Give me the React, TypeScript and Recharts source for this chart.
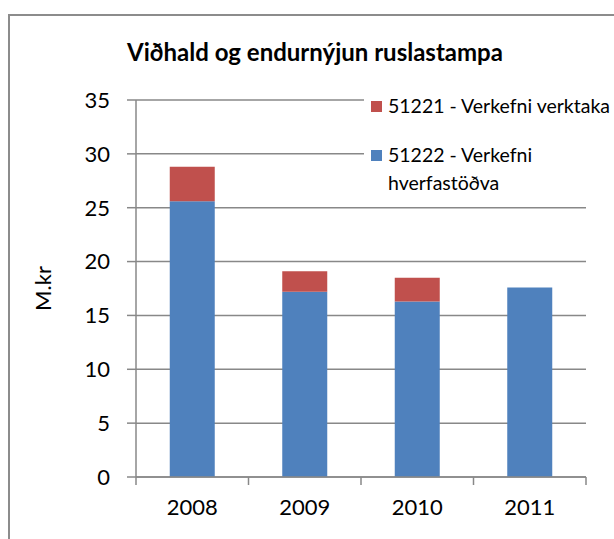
import React from "react";
import { BarChart, Bar, XAxis, YAxis, CartesianGrid, Label } from "recharts";

const years = ["2008", "2009", "2010", "2011"];
const hverfastodva = [25.6, 17.2, 16.3, 17.6]; // 51222
const verktaka = [3.2, 1.9, 2.2, 0]; // 51221
const yTicks = [0, 5, 10, 15, 20, 25, 30, 35];

const data = years.map((year, i) => ({
  year,
  blue: hverfastodva[i],
  red: verktaka[i],
}));

const FONT = "Lato, 'Open Sans', sans-serif";
const GRAY = "#888888";

const XTick = (props: any) => {
  const { x, y, payload, index, visibleTicksCount, width } = props;
  const half =
    payload && typeof payload.offset === "number" && payload.offset > 0
      ? payload.offset
      : width && visibleTicksCount
      ? width / visibleTicksCount / 2
      : 56;
  const axisY = y - 8 - 14;
  return (
    <g>
      <line x1={x - half} x2={x - half} y1={axisY} y2={axisY + 8} stroke={GRAY} strokeWidth={1.5} />
      {index === (visibleTicksCount ?? 4) - 1 && (
        <line x1={x + half} x2={x + half} y1={axisY} y2={axisY + 8} stroke={GRAY} strokeWidth={1.5} />
      )}
      <text x={x} y={y} dy="0.71em" textAnchor="middle" fill="#000" fontSize={22} fontFamily={FONT}>
        {payload.value}
      </text>
    </g>
  );
};

const legendItems = [
  { label: "51221 - Verkefni verktaka", color: "#c0504d" },
  { label: "51222 - Verkefni hverfastöðva", color: "#4f81bd" },
];

const LegendBox = () => (
  <div
    style={{
      position: "absolute",
      left: 354,
      top: 74,
      width: 260,
      height: 108,
      background: "#fff",
      paddingTop: 2,
      paddingLeft: 7,
      boxSizing: "border-box",
      zIndex: 2,
    }}
  >
    {legendItems.map((it, i) => (
      <div key={it.label} style={{ display: "flex", alignItems: "flex-start", marginTop: i === 0 ? 0 : 21 }}>
        <div style={{ width: 11, height: 11, background: it.color, marginTop: 9, marginRight: 6, flexShrink: 0 }} />
        <div style={{ fontSize: 19.5, lineHeight: "28px", width: 228, fontFamily: FONT, color: "#000", textAlign: "left" }}>
          {it.label}
        </div>
      </div>
    ))}
  </div>
);

export default function App() {
  return (
    <div
      style={{
        position: "fixed",
        left: 8,
        top: 14,
        width: 700,
        height: 600,
        border: "2px solid #8c8c8c",
        background: "#fff",
        fontFamily: FONT,
      }}
    >
      <div style={{ position: "relative", width: 600, height: 523 }}>
        <div
          style={{
            position: "absolute",
            left: 0,
            top: 22,
            width: 610,
            textAlign: "center",
            fontWeight: 700,
            fontSize: 24,
            lineHeight: "28px",
            color: "#000",
            zIndex: 2,
          }}
        >
          Viðhald og endurnýjun ruslastampa
        </div>
        <LegendBox />
        <BarChart
          width={600}
          height={523}
          data={data}
          margin={{ top: 84, right: 24, left: 0, bottom: 0 }}
          barCategoryGap="30%"
        >
          <CartesianGrid vertical={false} stroke={GRAY} strokeWidth={1.5} />
          <XAxis
            dataKey="year"
            height={62}
            stroke={GRAY}
            strokeWidth={1.5}
            tickLine={false}
            tickSize={8}
            tickMargin={14}
            tick={<XTick />}
            interval={0}
          />
          <YAxis
            width={126}
            domain={[0, 35]}
            ticks={yTicks}
            stroke={GRAY}
            strokeWidth={1.5}
            tickSize={9}
            tickMargin={17}
            tick={{ fill: "#000", fontSize: 22, fontFamily: FONT }}
            interval={0}
          >
            <Label
              content={(p: any) => {
                const vb = p.viewBox || { x: 0, y: 84, width: 126, height: 377 };
                const cx = vb.x + 32;
                const cy = vb.y + vb.height / 2;
                return (
                  <text
                    x={cx}
                    y={cy}
                    transform={`rotate(-90 ${cx} ${cy})`}
                    textAnchor="middle"
                    dominantBaseline="central"
                    fontSize={22}
                    fontFamily={FONT}
                    fill="#000"
                  >
                    M.kr
                  </text>
                );
              }}
            />
          </YAxis>
          <Bar dataKey="blue" stackId="a" fill="#4f81bd" isAnimationActive={false} />
          <Bar dataKey="red" stackId="a" fill="#c0504d" isAnimationActive={false} />
        </BarChart>
      </div>
    </div>
  );
}
